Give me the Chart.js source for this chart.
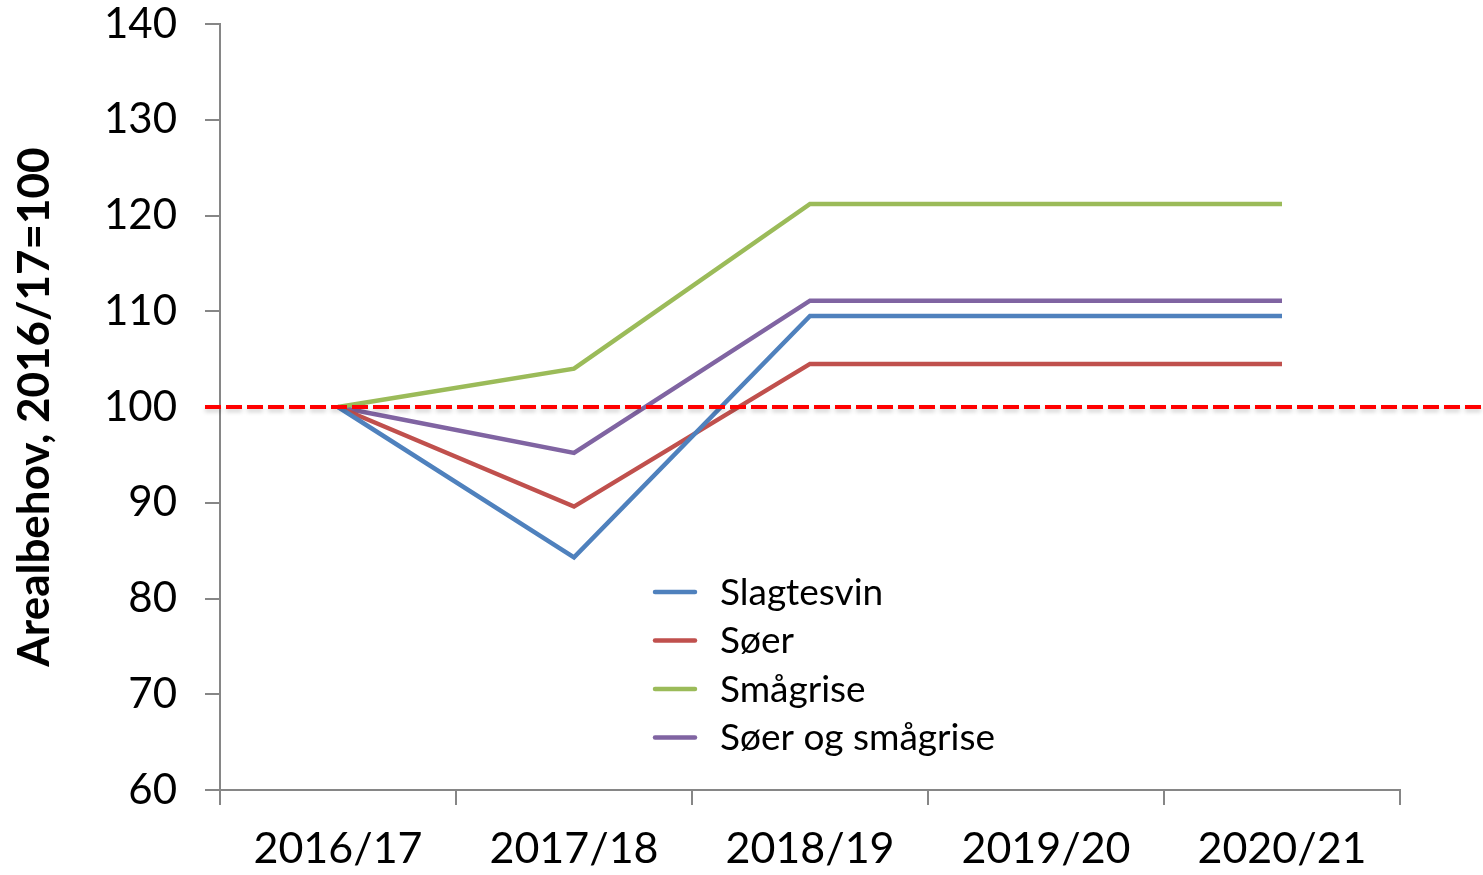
<!DOCTYPE html>
<html>
<head>
<meta charset="utf-8">
<script src="https://cdn.jsdelivr.net/npm/chart.js@4/dist/chart.umd.min.js"></script>
<style>
  html, body { margin: 0; padding: 0; background: #fff; }
  #wrap { width: 1483px; height: 875px; }
</style>
</head>
<body>
<div id="wrap"><canvas id="chart"></canvas></div>
<script>
// Sesonger og indeksverdier (2016/17 = 100)
const sesonger = ['2016/17', '2017/18', '2018/19', '2019/20', '2020/21'];
const slagtesvin = [100, 84.3, 109.5, 109.5, 109.5];
const soer = [100, 89.6, 104.5, 104.5, 104.5];
const smagrise = [100, 104.0, 121.2, 121.2, 121.2];
const soerOgSmagrise = [100, 95.2, 111.1, 111.1, 111.1];
const referanse = 100;

const fontFamily = 'Lato, "Open Sans", "DejaVu Sans", sans-serif';
const axisColor = '#868686';

// Rød stiplet linje ved 100, fra y-aksen helt ut til høyre kant
const refLine = {
  id: 'refLine',
  afterDatasetsDraw(chart) {
    const y = chart.scales.y.getPixelForValue(referanse);
    const ctx = chart.ctx;
    ctx.save();
    ctx.strokeStyle = '#FF0000';
    ctx.lineWidth = 4;
    ctx.setLineDash([16, 5]);
    ctx.shadowColor = 'rgba(0,0,0,0.18)';
    ctx.shadowBlur = 4;
    ctx.shadowOffsetY = 3;
    ctx.beginPath();
    ctx.moveTo(chart.chartArea.left - 15, y);
    ctx.lineTo(chart.width, y);
    ctx.stroke();
    ctx.restore();
  }
};

// Forklaring inne i plottområdet
const innerLegend = {
  id: 'innerLegend',
  afterDraw(chart) {
    const ctx = chart.ctx;
    const x0 = chart.chartArea.left + 435;
    const y0 = chart.chartArea.top + 568;
    ctx.save();
    ctx.font = '37px ' + fontFamily;
    ctx.textBaseline = 'middle';
    chart.data.datasets.forEach((ds, i) => {
      const y = y0 + i * 48.5;
      ctx.strokeStyle = ds.borderColor;
      ctx.lineWidth = 4.5;
      ctx.lineCap = 'round';
      ctx.beginPath();
      ctx.moveTo(x0, y);
      ctx.lineTo(x0 + 40, y);
      ctx.stroke();
      ctx.fillStyle = '#000';
      ctx.fillText(ds.label, x0 + 65, y + 1);
    });
    ctx.restore();
  }
};

const lineStyle = { borderWidth: 4.5, pointRadius: 0, tension: 0, fill: false };

new Chart(document.getElementById('chart'), {
  type: 'line',
  data: {
    labels: sesonger,
    datasets: [
      { label: 'Slagtesvin', data: slagtesvin, borderColor: '#4F81BD', ...lineStyle },
      { label: 'Søer', data: soer, borderColor: '#C0504D', ...lineStyle },
      { label: 'Smågrise', data: smagrise, borderColor: '#9BBB59', ...lineStyle },
      { label: 'Søer og smågrise', data: soerOgSmagrise, borderColor: '#8064A2', ...lineStyle }
    ]
  },
  options: {
    responsive: true,
    maintainAspectRatio: false,
    animation: false,
    layout: { padding: { top: 24, right: 83, left: 0, bottom: 0 } },
    plugins: {
      legend: { display: false },
      tooltip: { enabled: false }
    },
    scales: {
      x: {
        offset: true,
        grid: {
          offset: true,
          drawOnChartArea: false,
          tickLength: 15,
          color: axisColor,
          lineWidth: 2
        },
        border: { color: axisColor, width: 2 },
        ticks: {
          color: '#000',
          font: { family: fontFamily, size: 43 },
          padding: 18,
          maxRotation: 0
        },
        afterFit(scale) {
          scale.height = 85;
          scale.paddingLeft = 0;
          scale.paddingRight = 0;
        }
      },
      y: {
        min: 60,
        max: 140,
        ticks: {
          stepSize: 10,
          color: '#000',
          font: { family: fontFamily, size: 42, lineHeight: 1.15 },
          padding: 28
        },
        grid: {
          drawOnChartArea: false,
          tickLength: 15,
          color: axisColor,
          lineWidth: 2
        },
        border: { color: axisColor, width: 2 },
        title: {
          display: true,
          text: 'Arealbehov, 2016/17=100',
          color: '#000',
          font: { family: fontFamily, size: 44, weight: 'bold' },
          padding: { top: 8, bottom: 0 }
        },
        afterFit(scale) {
          scale.width = 220;
          scale.paddingTop = 0;
          scale.paddingBottom = 0;
        }
      }
    }
  },
  plugins: [refLine, innerLegend]
});
</script>
</body>
</html>
